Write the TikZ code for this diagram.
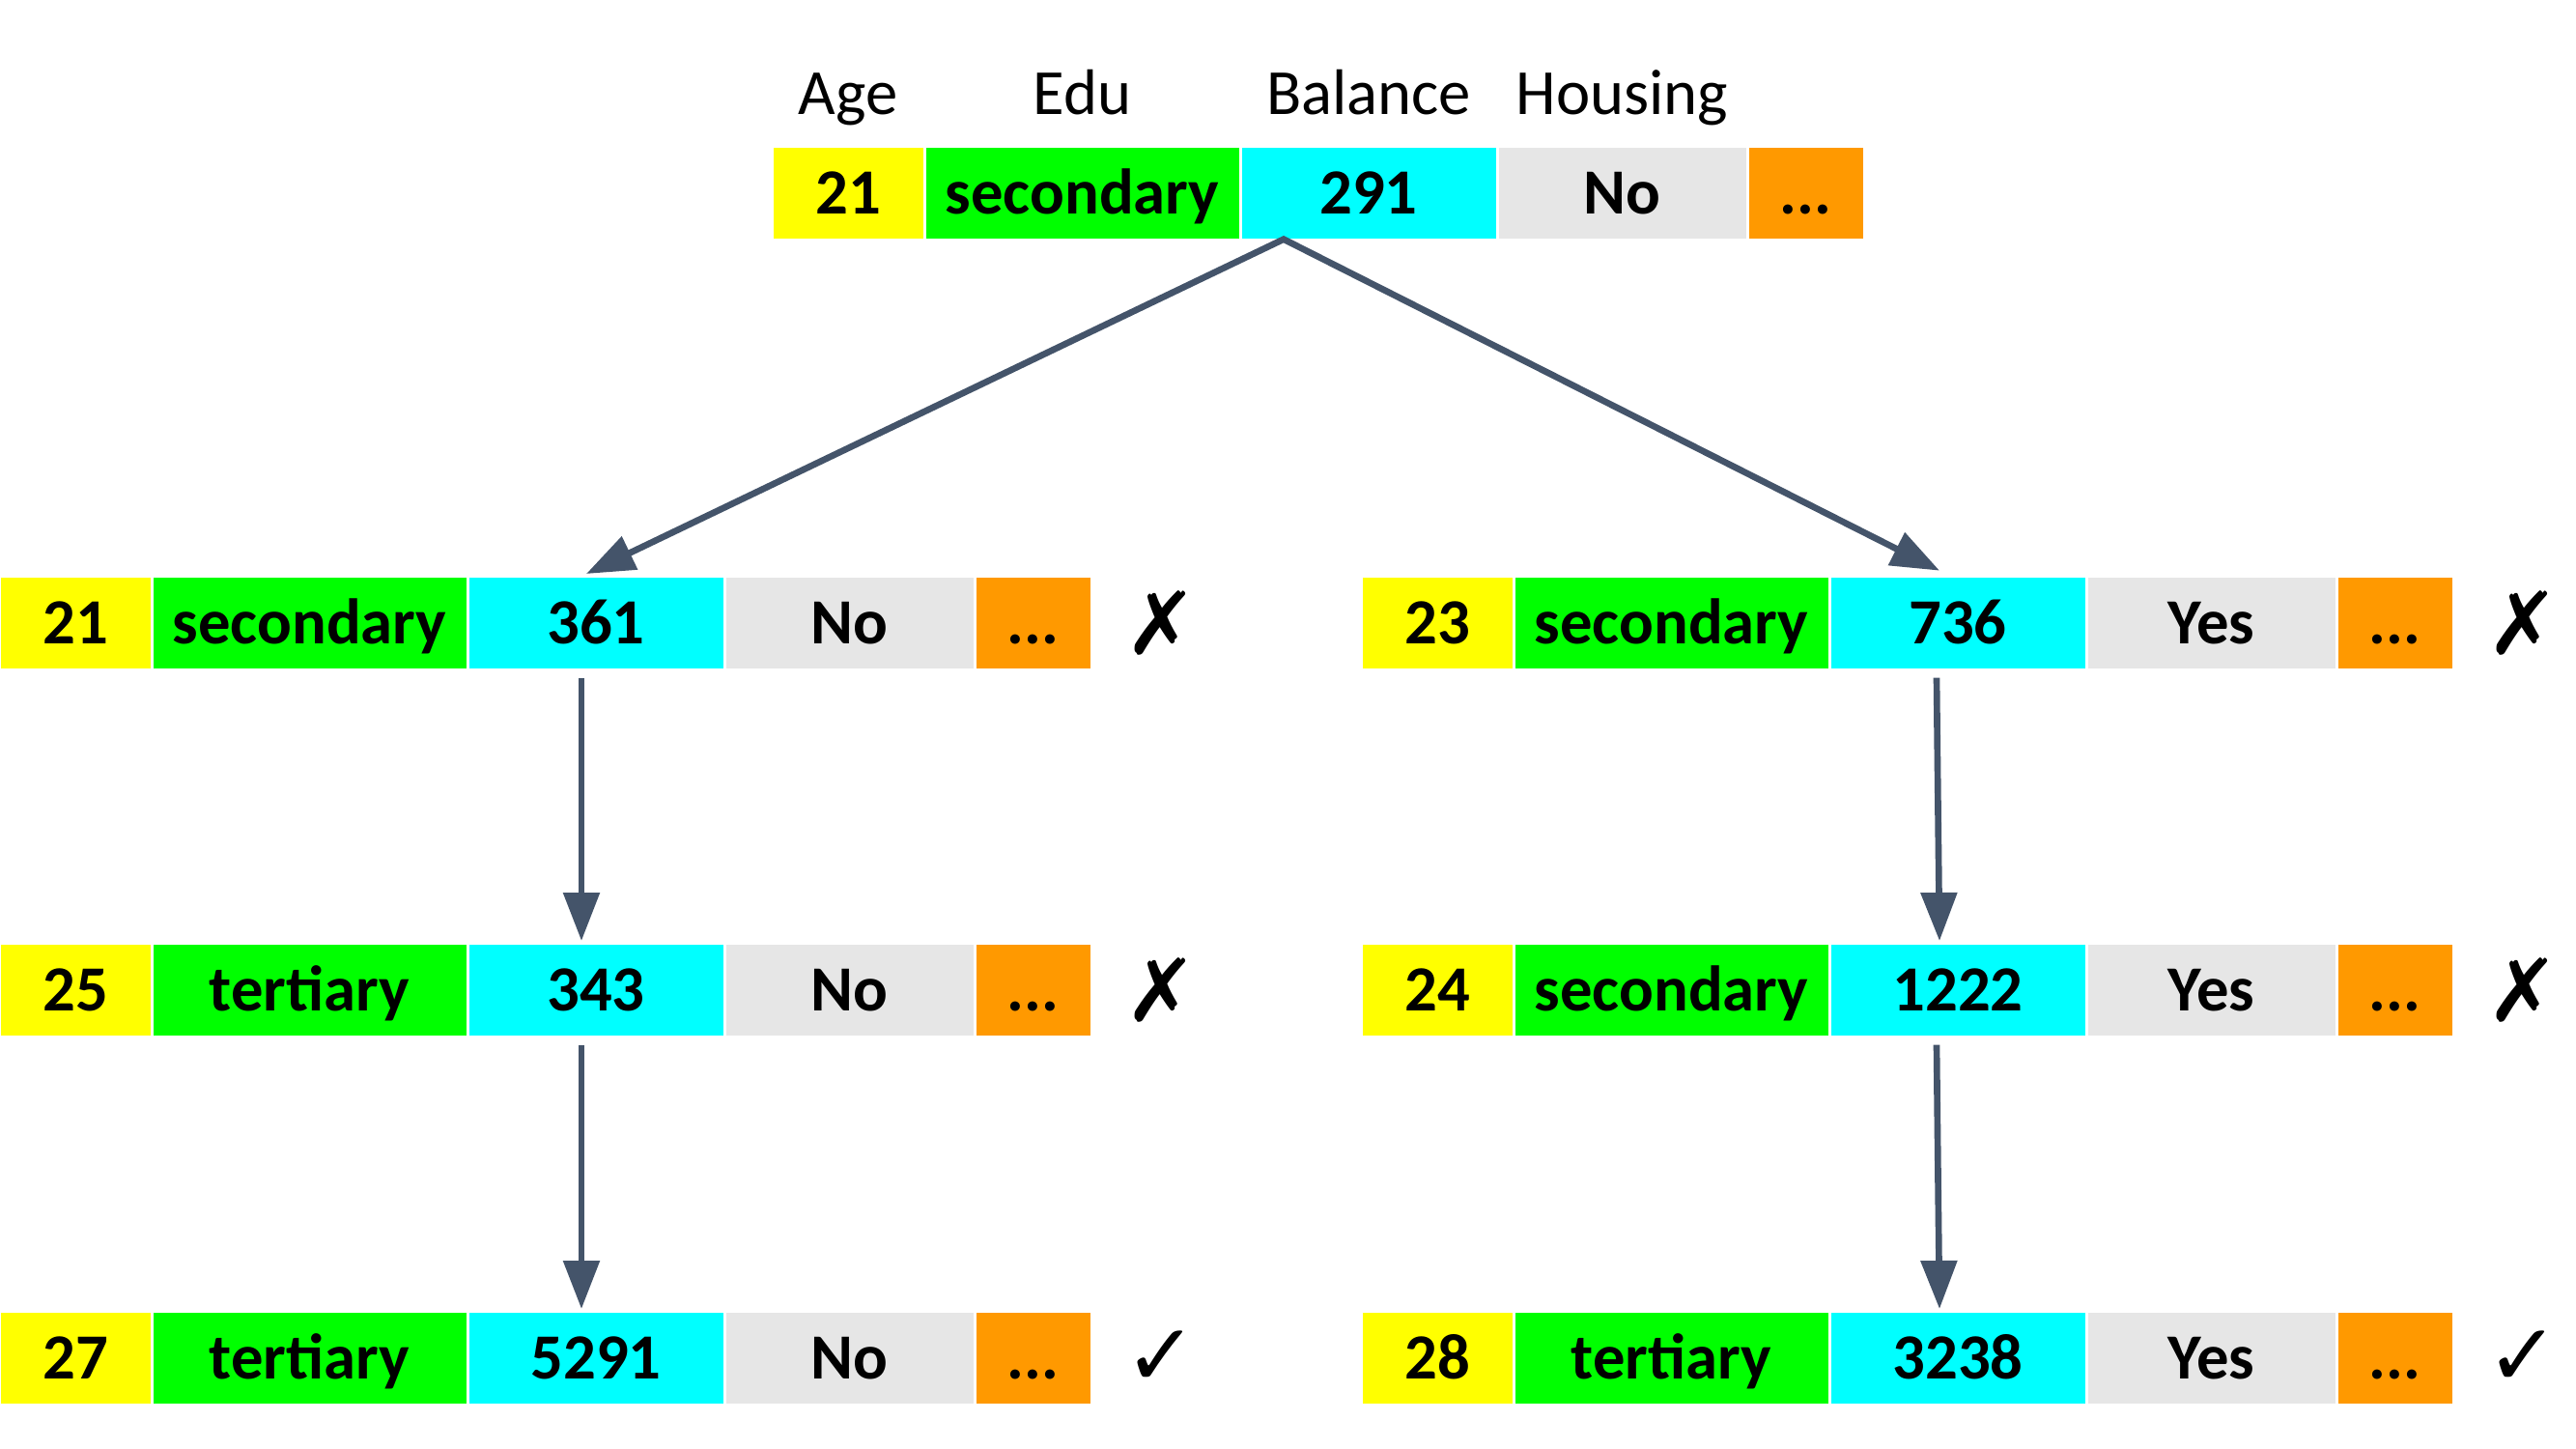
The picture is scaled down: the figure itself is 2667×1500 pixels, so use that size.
\documentclass[tikz,border=0pt]{standalone}
\usepackage{fontspec}
\setmainfont{Carlito}
\newfontfamily\markfont{DejaVu Sans}
\usepackage{xcolor}
\usepackage{tikz}
\usetikzlibrary{arrows.meta,positioning}

\definecolor{agecol}{HTML}{FFFF00}
\definecolor{educol}{HTML}{00FF00}
\definecolor{balcol}{HTML}{00FFFF}
\definecolor{houcol}{HTML}{E6E6E6}
\definecolor{morecol}{HTML}{FF9900}
\definecolor{arrowcol}{HTML}{44546A}

\begin{document}
\begin{tikzpicture}[x=0.3pt,y=-0.3pt,node distance=0.5pt,
  cell/.style={minimum height=28.2pt,inner sep=0pt,text height=12.8pt,text depth=0pt,
    font=\fontsize{20}{24}\selectfont\bfseries},
  age/.style={cell,fill=agecol,minimum width=46.5pt},
  edu/.style={cell,fill=educol,minimum width=97.2pt},
  bal/.style={cell,fill=balcol,minimum width=78.9pt},
  hou/.style={cell,fill=houcol,minimum width=76.8pt},
  more/.style={cell,fill=morecol,minimum width=35.4pt},
  head/.style={font=\fontsize{20}{24}\selectfont,inner sep=0pt},
  verdict/.style={font=\markfont\fontsize{27}{30}\selectfont,inner sep=0pt},
  arr/.style={draw=arrowcol,line width=2pt,-{Triangle[length=15pt,width=11pt]}}]
\useasboundingbox (0,0) rectangle (2667,1500);

% records
\foreach \rw/\px/\py/\vage/\vedu/\vbal/\vhou in {t/878/200/21/secondary/291/No,
    l1/78/645/21/secondary/361/No, l2/78/1025/25/tertiary/343/No, l3/78/1406/27/tertiary/5291/No,
    r1/1488/645/23/secondary/736/Yes, r2/1488/1025/24/secondary/1222/Yes, r3/1488/1406/28/tertiary/3238/Yes}{
  \node[age] (a\rw) at (\px,\py) {\vage};
  \node[edu] (e\rw) [right = of a\rw] {\vedu};
  \node[bal] (b\rw) [right = of e\rw] {\vbal};
  \node[hou] (h\rw) [right = of b\rw] {\vhou};
  \node[more] (o\rw) [right = of h\rw] {...};
}

% column names
\foreach \c/\t in {at/Age,et/Edu,bt/Balance,ht/Housing}
  \node[head,anchor=base] (n\c) at ([yshift=10pt]\c.north) {\t};

% verdicts
\foreach \rw/\m in {l1/✗,l2/✗,l3/✓,r1/✗,r2/✗,r3/✓}
  \node[verdict] (v\rw) at ([xshift=22pt]o\rw.east) {\m};

\draw[arr,{Triangle[length=15pt,width=11pt]}-{Triangle[length=15pt,width=11pt]}]
  ([xshift=-3pt,yshift=1pt]bl1.north) -- ([xshift=-26.4pt]bt.south) -- ([xshift=-5.7pt,yshift=2pt]br1.north);
\path ([xshift=-4.5pt,yshift=-2.7pt]bl1.south) edge [arr] ([xshift=-4.5pt,yshift=1pt]bl2.north);
\path ([xshift=-4.5pt,yshift=-2.7pt]bl2.south) edge [arr] ([xshift=-4.5pt,yshift=1pt]bl3.north);
\path ([xshift=-6.6pt,yshift=-2.7pt]br1.south) edge [arr] ([xshift=-5.7pt,yshift=1pt]br2.north);
\path ([xshift=-6.6pt,yshift=-2.7pt]br2.south) edge [arr] ([xshift=-5.7pt,yshift=1pt]br3.north);

\end{tikzpicture}
\end{document}
